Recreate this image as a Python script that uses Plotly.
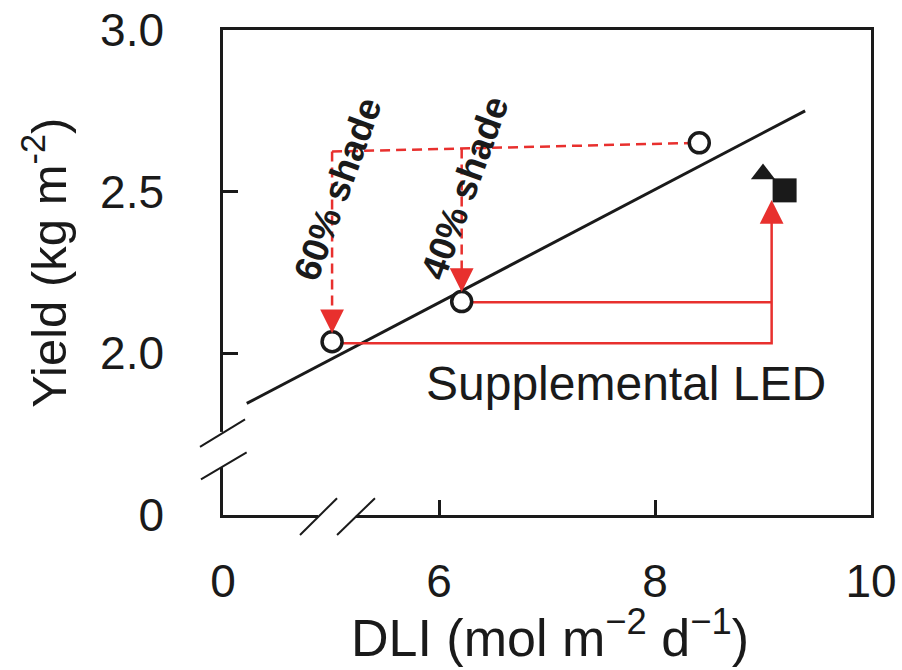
import plotly.graph_objects as go

# ---------------- data ----------------
circle_dli = [5.01, 6.21, 8.41]
circle_yield = [2.036, 2.160, 2.651]
tri_dli = [9.00]
tri_yield = [2.555]
sq_dli = [9.20]
sq_yield = [2.504]
fit_dli = [4.22, 9.39]
fit_yield = [1.845, 2.750]
shade_top_yield = [2.624, 2.651]          # dashed line from 60% column to the 8.4 DLI point
shade_tip_yield = [2.062, 2.190]          # arrow tips above 60% / 40% shade points
led_dli = 9.08
led_tip_yield = 2.474
led_line_yield = [2.031, 2.158]
shade_labels = ["60% shade", "40% shade"]
shade_label_dli = [5.06, 6.24]
shade_label_yield = [2.508, 2.513]
led_label = "Supplemental LED"
led_label_pos = (7.73, 1.908)
x_tickvals = [4, 6, 8, 10]
x_ticktext = ["0", "6", "8", "10"]
y_tickvals = [1.5, 2.0, 2.5, 3.0]
y_ticktext = ["0", "2.0", "2.5", "3.0"]
x_range = [4, 10]
y_range = [1.5, 3.0]
x_break = [4.88, 5.23]
y_break = [1.648, 1.757]

RED = "#e8302e"
INK = "#1a1a1a"
FONT = "Arial, Liberation Sans, sans-serif"

fig = go.Figure()

# regression line
fig.add_trace(go.Scatter(x=fit_dli, y=fit_yield, mode="lines",
                         line=dict(color=INK, width=3), hoverinfo="skip"))

# dashed shade lines
x60, x40, x84 = circle_dli
frac40 = (x40 - x60) / (x84 - x60)
y40_top = shade_top_yield[0] + frac40 * (shade_top_yield[1] - shade_top_yield[0])
DASH = dict(color=RED, width=2.5, dash="10px,6px")
fig.add_trace(go.Scatter(x=[x60, x84], y=[shade_top_yield[0], circle_yield[2]], mode="lines",
                         line=DASH, hoverinfo="skip"))
fig.add_trace(go.Scatter(x=[x60, x60], y=[shade_top_yield[0], shade_tip_yield[0] + 0.04], mode="lines",
                         line=DASH, hoverinfo="skip"))
fig.add_trace(go.Scatter(x=[x40, x40], y=[y40_top, shade_tip_yield[1] + 0.04], mode="lines",
                         line=DASH, hoverinfo="skip"))

# solid LED lines
fig.add_trace(go.Scatter(x=[circle_dli[0], led_dli, led_dli],
                         y=[led_line_yield[0], led_line_yield[0], led_tip_yield - 0.04],
                         mode="lines", line=dict(color=RED, width=2.5), hoverinfo="skip"))
fig.add_trace(go.Scatter(x=[circle_dli[1], led_dli], y=[led_line_yield[1], led_line_yield[1]],
                         mode="lines", line=dict(color=RED, width=2.5), hoverinfo="skip"))

# markers
fig.add_trace(go.Scatter(x=circle_dli, y=circle_yield, mode="markers",
                         marker=dict(symbol="circle", size=20, color="white",
                                     line=dict(color=INK, width=3.5)), hoverinfo="skip"))
fig.add_trace(go.Scatter(x=tri_dli, y=tri_yield, mode="markers",
                         marker=dict(symbol="triangle-up", size=21, color=INK, line=dict(width=0)),
                         hoverinfo="skip"))
fig.add_trace(go.Scatter(x=sq_dli, y=sq_yield, mode="markers",
                         marker=dict(symbol="square", size=24, color=INK, line=dict(width=0)),
                         hoverinfo="skip"))

annotations = []
# arrowheads
for xx, yy, ay in [(x60, shade_tip_yield[0], -18), (x40, shade_tip_yield[1], -18),
                   (led_dli, led_tip_yield, 18)]:
    annotations.append(dict(x=xx, y=yy, xref="x", yref="y", ax=0, ay=ay, text="",
                            showarrow=True, arrowhead=2, arrowsize=1.9, arrowwidth=2.5,
                            arrowcolor=RED))

for txt, xx, yy in zip(shade_labels, shade_label_dli, shade_label_yield):
    annotations.append(dict(x=xx, y=yy, xref="x", yref="y", text="<b>%s</b>" % txt,
                            showarrow=False, textangle=-70, xanchor="center", yanchor="middle",
                            font=dict(family=FONT, size=37, color=INK)))

annotations.append(dict(x=led_label_pos[0], y=led_label_pos[1], xref="x", yref="y", text=led_label,
                        showarrow=False, xanchor="center", yanchor="middle",
                        font=dict(family=FONT, size=48, color=INK)))

# axis titles
annotations.append(dict(x=-0.2747, y=0.52, xref="paper", yref="paper",
                        text="Yield (kg m<sup>-2</sup>)", showarrow=False, textangle=-90,
                        xanchor="center", yanchor="middle",
                        font=dict(family=FONT, size=49, color=INK)))
annotations.append(dict(x=0.505, y=-0.246, xref="paper", yref="paper",
                        text="DLI (mol m<sup>\u22122</sup> d<sup>\u22121</sup>)", showarrow=False,
                        xanchor="center", yanchor="middle",
                        font=dict(family=FONT, size=52, color=INK)))


def px(x):
    return (x - x_range[0]) / (x_range[1] - x_range[0])


def py(y):
    return (y - y_range[0]) / (y_range[1] - y_range[0])


shapes = []
# gaps in axis lines
shapes.append(dict(type="rect", xref="paper", yref="paper", x0=px(x_break[0]), x1=px(x_break[1]),
                   y0=-0.012, y1=0.012, fillcolor="white", line=dict(width=0), layer="above"))
shapes.append(dict(type="rect", xref="paper", yref="paper", x0=-0.01, x1=0.01,
                   y0=py(y_break[0]), y1=py(y_break[1]), fillcolor="white", line=dict(width=0),
                   layer="above"))
# break slashes
for (a, b) in [((4.713, 1.438), (5.056, 1.552)), ((5.056, 1.438), (5.407, 1.552)),
               ((3.787, 1.711), (4.204, 1.796)), ((3.796, 1.610), (4.219, 1.694))]:
    shapes.append(dict(type="line", xref="paper", yref="paper", x0=px(a[0]), y0=py(a[1]),
                       x1=px(b[0]), y1=py(b[1]), line=dict(color=INK, width=2), layer="above"))

fig.update_layout(
    width=902, height=670,
    margin=dict(l=223, r=31, t=30, b=155, autoexpand=False),
    paper_bgcolor="white", plot_bgcolor="white",
    showlegend=False,
    font=dict(family=FONT, size=46, color=INK),
    annotations=annotations,
    shapes=shapes,
)
fig.update_xaxes(range=x_range, tickvals=x_tickvals, ticktext=x_ticktext, automargin=False,
                 showgrid=False, zeroline=False, showline=True, mirror=True,
                 linecolor=INK, linewidth=2.5, ticks="inside", ticklen=15, tickwidth=2.5,
                 tickcolor=INK, ticklabelstandoff=24,
                 tickfont=dict(family=FONT, size=46, color=INK))
fig.update_yaxes(range=y_range, tickvals=y_tickvals, ticktext=y_ticktext, automargin=False,
                 showgrid=False, zeroline=False, showline=True, mirror=True,
                 linecolor=INK, linewidth=2.5, ticks="inside", ticklen=15, tickwidth=2.5,
                 tickcolor=INK, ticklabelstandoff=47,
                 tickfont=dict(family=FONT, size=46, color=INK))

fig.write_html("out.html")
